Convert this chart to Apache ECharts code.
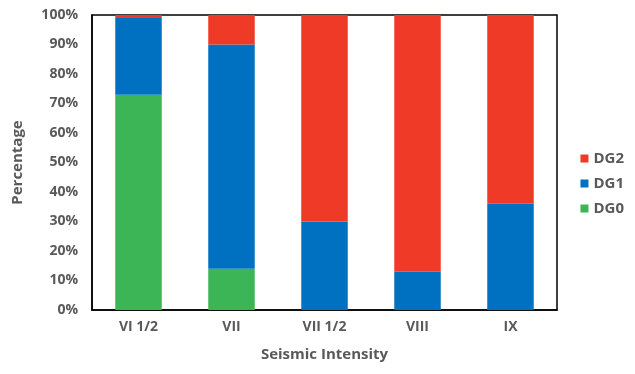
<!DOCTYPE html>
<html>
<head>
<meta charset="utf-8">
<script src="https://cdn.jsdelivr.net/npm/echarts@6/dist/echarts.min.js"></script>
<style>
  html, body { margin: 0; padding: 0; background: #fff; }
  #chart { width: 635px; height: 374px; }
</style>
</head>
<body>
<div id="chart"></div>
<script>
// Damage grade distribution (%) per seismic intensity
const categories = ['VI 1/2', 'VII', 'VII 1/2', 'VIII', 'IX'];
const dg0 = [73, 14, 0, 0, 0];
const dg1 = [26, 76, 30, 13, 36];
const dg2 = [1, 10, 70, 87, 64];
const yTicks = [0, 10, 20, 30, 40, 50, 60, 70, 80, 90, 100];

const textColor = '#595959';
const fontFamily = '"Open Sans", "Liberation Sans", sans-serif';

const chart = echarts.init(document.getElementById('chart'), null, { renderer: 'canvas' });

function barSeries(name, data, color) {
  return {
    name: name,
    type: 'bar',
    stack: 'total',
    data: data,
    barCategoryGap: '50%',
    itemStyle: { color: color },
    emphasis: { disabled: true }
  };
}

chart.setOption({
  animation: false,
  grid: {
    left: 92, right: 78, top: 15, bottom: 64,
    show: true, borderColor: '#000', borderWidth: 1.5, backgroundColor: 'transparent'
  },
  legend: {
    orient: 'vertical',
    right: 6,
    top: 146,
    itemWidth: 8,
    itemHeight: 8,
    itemGap: 10,
    icon: 'rect',
    textStyle: { color: textColor, fontSize: 15, fontWeight: 'bold', fontFamily: fontFamily },
    data: ['DG2', 'DG1', 'DG0']
  },
  xAxis: {
    type: 'category',
    data: categories,
    name: 'Seismic Intensity',
    nameLocation: 'middle',
    nameGap: 37,
    nameTextStyle: { color: textColor, fontSize: 15, fontWeight: 'bold', fontFamily: fontFamily },
    axisLine: { lineStyle: { color: '#000', width: 1.5 } },
    axisTick: { show: false },
    axisLabel: { color: textColor, fontSize: 14, fontWeight: 'bold', fontFamily: fontFamily, margin: 10 }
  },
  yAxis: {
    type: 'value',
    min: 0,
    max: 100,
    interval: 10,
    name: 'Percentage',
    nameLocation: 'middle',
    nameGap: 67,
    nameTextStyle: { color: textColor, fontSize: 15, fontWeight: 'bold', fontFamily: fontFamily },
    axisLine: { show: true, lineStyle: { color: '#000', width: 1.5 } },
    axisTick: { show: false },
    splitLine: { show: false },
    axisLabel: {
      color: textColor, fontSize: 14, fontWeight: 'bold', fontFamily: fontFamily, margin: 14,
      formatter: function (v) { return yTicks.indexOf(v) >= 0 ? v + '%' : ''; }
    }
  },
  series: [
    barSeries('DG0', dg0, '#3BB555'),
    barSeries('DG1', dg1, '#0070C0'),
    barSeries('DG2', dg2, '#EE3A26')
  ]
});
</script>
</body>
</html>
